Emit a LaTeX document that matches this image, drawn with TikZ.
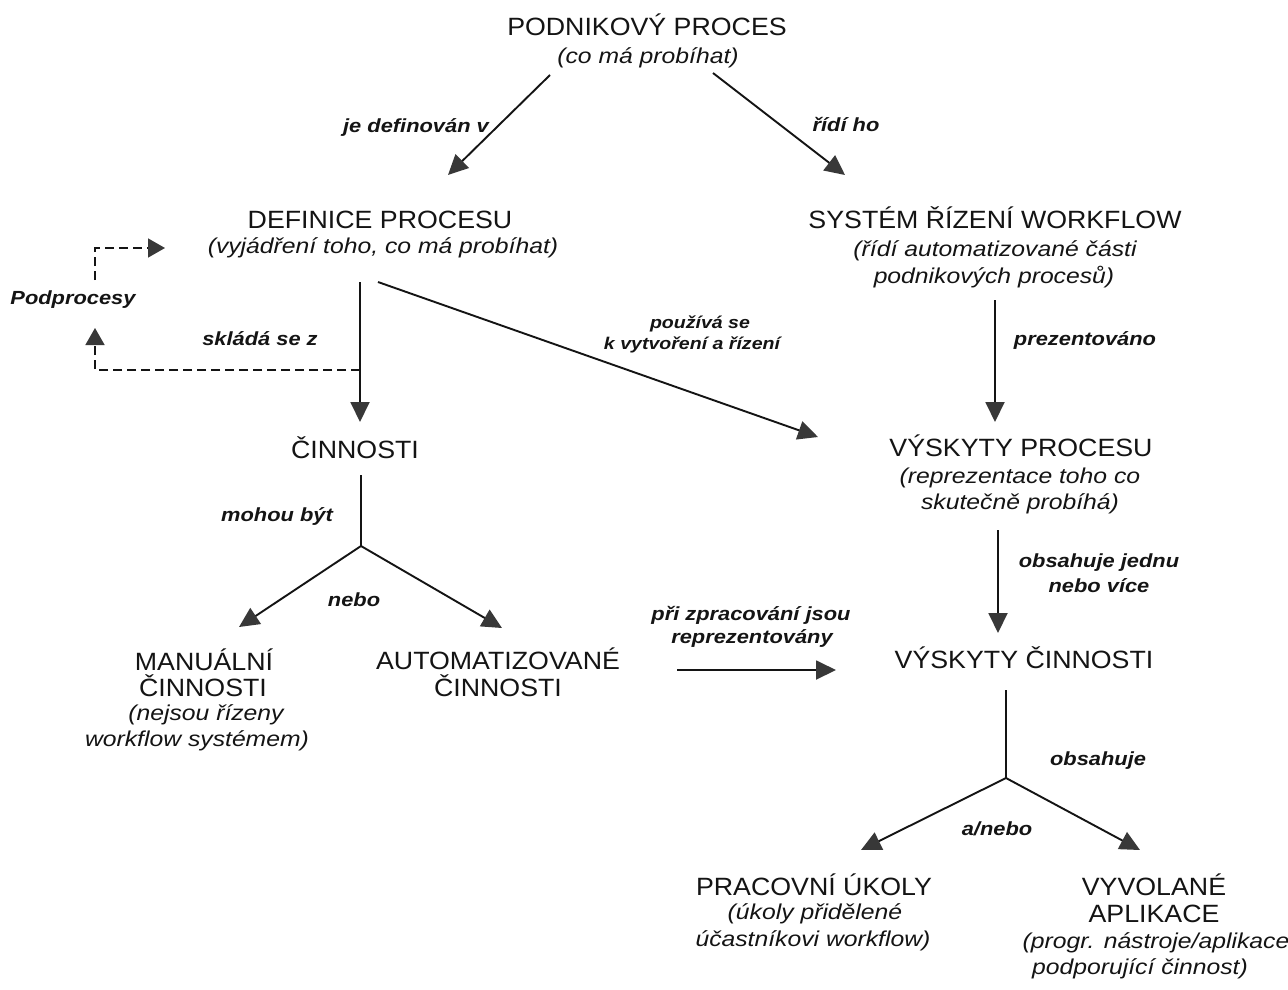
\documentclass[tikz,border=0pt]{standalone}
\usepackage{fontspec}
\setmainfont{Liberation Sans}
\newfontfamily\tfam[FakeStretch=1.07]{Liberation Sans}
\newfontfamily\sfam[FakeStretch=1.15]{Liberation Sans}
\usetikzlibrary{arrows.meta}
\definecolor{ink}{HTML}{141414}
\definecolor{headc}{HTML}{383838}
\tikzset{
  ttl/.style={anchor=base, inner sep=0pt, text=ink, font=\tfam\fontsize{25}{30}\selectfont},
  sub/.style={anchor=base, inner sep=0pt, text=ink, font=\sfam\itshape\fontsize{21.5}{25}\selectfont},
  lab/.style={anchor=base, inner sep=0pt, text=ink, font=\sfam\bfseries\itshape\fontsize{19}{23}\selectfont},
  slab/.style={anchor=base, inner sep=0pt, text=ink, font=\sfam\bfseries\itshape\fontsize{17}{20}\selectfont},
  conn/.style={draw=ink, line width=1.9pt},
  arr/.style={conn, -{Triangle[length=20pt,width=19pt,color=headc]}},
  dsh/.style={draw=ink, line width=1.6pt, dash pattern=on 9pt off 5pt},
  darr/.style={dsh, -{Triangle[length=17pt,width=19pt,color=headc]}}
}
\begin{document}
\begin{tikzpicture}[x=1pt,y=-1pt]
\fill[white] (0,0) rectangle (1288,989);
\useasboundingbox (0,0) rectangle (1288,989);

% --- concept nodes ---
\node[ttl] (pp)   at (647,35)  {PODNIKOVÝ PROCES};
\node[sub] (pps)  at (648,63)  {(co má probíhat)};

\node[ttl] (def)  at (380,228) {DEFINICE PROCESU};
\node[sub] (defs) at (383,253) {(vyjádření toho, co má probíhat)};

\node[ttl] (sys)  at (995,228) {SYSTÉM ŘÍZENÍ WORKFLOW};
\node[sub] (syss1) at (995,256) {(řídí automatizované části};
\node[sub] (syss2) at (994,283) {podnikových procesů)};

\node[ttl] (cin)  at (355,458) {ČINNOSTI};

\node[ttl] (vp)   at (1021,456) {VÝSKYTY PROCESU};
\node[sub] (vps1) at (1020,483) {(reprezentace toho co};
\node[sub] (vps2) at (1020,509) {skutečně probíhá)};

\node[ttl] (man1) at (204,670) {MANUÁLNÍ};
\node[ttl] (man2) at (203,696) {ČINNOSTI};
\node[sub] (mans1) at (206,720) {(nejsou řízeny};
\node[sub] (mans2) at (197,746) {workflow systémem)};

\node[ttl] (aut1) at (498,669) {AUTOMATIZOVANÉ};
\node[ttl] (aut2) at (498,696) {ČINNOSTI};

\node[ttl] (vc)   at (1024,668) {VÝSKYTY ČINNOSTI};

\node[ttl] (pu)   at (814,895) {PRACOVNÍ ÚKOLY};
\node[sub] (pus1) at (815,919) {(úkoly přidělené};
\node[sub] (pus2) at (813,946) {účastníkovi workflow)};

\node[ttl] (va1)  at (1154,895) {VYVOLANÉ};
\node[ttl] (va2)  at (1154,922) {APLIKACE};
\node[sub] (vas1) at (1156,948) {(progr. nástroje/aplikace};
\node[sub] (vas2) at (1140,974) {podporující činnost)};

% --- labels ---
\node[lab] (l1) at (416,132) {je definován v};
\node[lab] (l2) at (846,131) {řídí ho};
\node[lab] (l3) at (73,304) {Podprocesy};
\node[lab] (l4) at (260,345) {skládá se z};
\node[slab] (l5a) at (700,328) {používá se};
\node[slab] (l5b) at (692,349) {k vytvoření a řízení};
\node[lab] (l6) at (1085,345) {prezentováno};
\node[lab] (l7) at (277,521) {mohou být};
\node[lab] (l8a) at (1099,567) {obsahuje jednu};
\node[lab] (l8b) at (1099,592) {nebo více};
\node[lab] (l9) at (354,606) {nebo};
\node[lab] (l10a) at (751,620) {při zpracování jsou};
\node[lab] (l10b) at (752,643) {reprezentovány};
\node[lab] (l11) at (1098,765) {obsahuje};
\node[lab] (l12) at (997,835) {a/nebo};

% --- connector end points ---
\coordinate (ppL) at (550,75);   \coordinate (defT) at (448,175);
\coordinate (ppR) at (713,73);   \coordinate (sysT) at (845,175);
\coordinate (defB) at (360,282); \coordinate (cinT) at (360,422);
\coordinate (defD) at (378,282); \coordinate (vpL) at (818,437);
\coordinate (sysB) at (995,300); \coordinate (vpT) at (995,422);
\coordinate (vpB) at (998,530);  \coordinate (vcT) at (998,633);
\coordinate (cinB) at (361,475); \coordinate (cinJ) at (361,546);
\coordinate (manT) at (239,627); \coordinate (autT) at (502,628);
\coordinate (autR) at (677,670); \coordinate (vcL) at (836,670);
\coordinate (vcB) at (1006,690); \coordinate (vcJ) at (1006,778);
\coordinate (puT) at (861,850);  \coordinate (vaT) at (1140,850);
\coordinate (dS) at (360,370);   \coordinate (dC1) at (95,370);
\coordinate (dU) at (95,328);    \coordinate (dV) at (95,280);
\coordinate (dC2) at (95,248);   \coordinate (dR) at (165,248);

% --- connectors ---
\draw[arr] (ppL) -- (defT);
\draw[arr] (ppR) -- (sysT);
\draw[arr] (defB) -- (cinT);
\draw[arr] (defD) -- (vpL);
\draw[arr] (sysB) -- (vpT);
\draw[arr] (vpB) -- (vcT);
\draw[conn] (cinB) -- (cinJ);
\draw[arr] (cinJ) -- (manT);
\draw[arr] (cinJ) -- (autT);
\draw[arr] (autR) -- (vcL);
\draw[conn] (vcB) -- (vcJ);
\draw[arr] (vcJ) -- (puT);
\draw[arr] (vcJ) -- (vaT);
\draw[darr] (dS) -- (dC1) -- (dU);
\draw[darr] (dV) -- (dC2) -- (dR);
\end{tikzpicture}
\end{document}
